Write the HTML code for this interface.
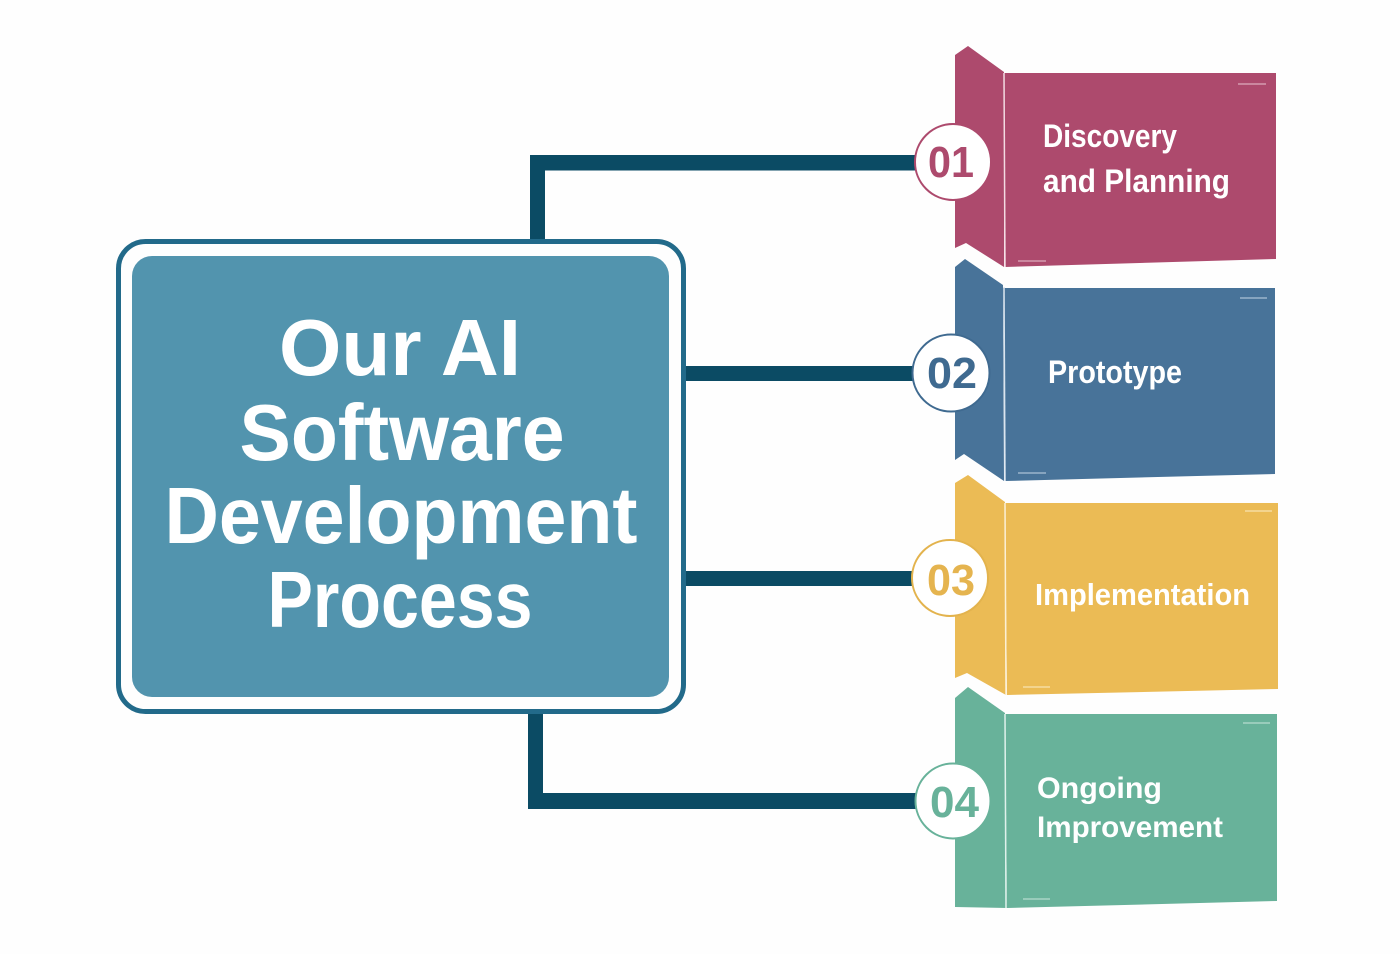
<!DOCTYPE html>
<html>
<head>
<meta charset="utf-8">
<style>
html,body{margin:0;padding:0;background:#fefefe;}
svg{display:block;}
text{font-family:"Liberation Sans",Arial,sans-serif;font-weight:bold;}
</style>
</head>
<body>
<svg width="1400" height="954" viewBox="0 0 1400 954" xmlns="http://www.w3.org/2000/svg">
  <rect x="0" y="0" width="1400" height="954" fill="#fefefe"/>

  <!-- connectors -->
  <g fill="#0b4b64">
    <rect x="530" y="155" width="15" height="88"/>
    <rect x="530" y="155" width="390" height="15.5"/>
    <rect x="684" y="366" width="232" height="15"/>
    <rect x="684" y="571" width="232" height="15"/>
    <rect x="528" y="707" width="15" height="102"/>
    <rect x="528" y="793" width="392" height="16"/>
  </g>

  <!-- main box -->
  <rect x="118.5" y="241.5" width="565" height="470" rx="27" ry="27" fill="#fefefe" stroke="#226a8a" stroke-width="5"/>
  <rect x="132" y="256" width="537" height="441" rx="20" ry="20" fill="#5294ae"/>
  <g fill="#ffffff" text-anchor="middle" font-size="80">
    <text x="400" y="375" textLength="242" lengthAdjust="spacingAndGlyphs">Our AI</text>
    <text x="402" y="460" textLength="325" lengthAdjust="spacingAndGlyphs">Software</text>
    <text x="401" y="543" textLength="473" lengthAdjust="spacingAndGlyphs">Development</text>
    <text x="400" y="627" textLength="265" lengthAdjust="spacingAndGlyphs">Process</text>
  </g>

  <!-- block 1 pink -->
  <g fill="#ad4a6d">
    <polygon points="955,55 968,46 1004,72 1004,267 966,243 955,248"/>
    <polygon points="1003,73 1276,73 1276,259 1005,267"/>
  </g>
  <line x1="1004" y1="73" x2="1005" y2="267" stroke="#f3dbe3" stroke-width="1.5"/>
  <line x1="1238" y1="84" x2="1266" y2="84" stroke="#d59bb0" stroke-width="1.5"/>
  <line x1="1018" y1="261" x2="1046" y2="261" stroke="#d59bb0" stroke-width="1.5"/>

  <!-- block 2 blue -->
  <g fill="#487399">
    <polygon points="955,267 965,259 1003,285 1004,481 964,454 955,460"/>
    <polygon points="1003,288 1275,288 1275,474 1005,481"/>
  </g>
  <line x1="1004" y1="287" x2="1005" y2="481" stroke="#dbe5ef" stroke-width="1.5"/>
  <line x1="1240" y1="298" x2="1267" y2="298" stroke="#9bb5cc" stroke-width="1.5"/>
  <line x1="1018" y1="473" x2="1046" y2="473" stroke="#9bb5cc" stroke-width="1.5"/>

  <!-- block 3 yellow -->
  <g fill="#ebbb55">
    <polygon points="955,483 968,475 1005,502 1006,695 967,673 955,678"/>
    <polygon points="1005,503 1278,503 1278,689 1007,695"/>
  </g>
  <line x1="1005" y1="503" x2="1006" y2="695" stroke="#fbf0d6" stroke-width="1.5"/>
  <line x1="1245" y1="511" x2="1272" y2="511" stroke="#f6dca2" stroke-width="1.5"/>
  <line x1="1023" y1="687" x2="1050" y2="687" stroke="#f6dca2" stroke-width="1.5"/>

  <!-- block 4 green -->
  <g fill="#68b29a">
    <polygon points="955,698 968,687 1005,713 1007,908 955,907"/>
    <polygon points="1005,714 1277,714 1277,901 1007,908"/>
  </g>
  <line x1="1005" y1="714" x2="1006" y2="908" stroke="#e0f1eb" stroke-width="1.5"/>
  <line x1="1243" y1="723" x2="1270" y2="723" stroke="#a9d5c6" stroke-width="1.5"/>
  <line x1="1023" y1="899" x2="1050" y2="899" stroke="#a9d5c6" stroke-width="1.5"/>

  <!-- circles -->
  <circle cx="953" cy="162" r="38" fill="#ffffff" stroke="#ad4a6d" stroke-width="2"/>
  <circle cx="951" cy="373" r="38.5" fill="#ffffff" stroke="#3f6a90" stroke-width="2"/>
  <circle cx="950" cy="578" r="38" fill="#ffffff" stroke="#e3b34d" stroke-width="2"/>
  <circle cx="953" cy="801" r="37.5" fill="#ffffff" stroke="#68b29a" stroke-width="2"/>

  <g text-anchor="middle" font-size="44">
    <text x="951" y="177" fill="#ad4a6d" textLength="46" lengthAdjust="spacingAndGlyphs">01</text>
    <text x="952" y="388" fill="#3f6a90" textLength="50" lengthAdjust="spacingAndGlyphs">02</text>
    <text x="951" y="595" fill="#e5b44f" textLength="48" lengthAdjust="spacingAndGlyphs">03</text>
    <text x="954.5" y="817" fill="#68b29a" textLength="49" lengthAdjust="spacingAndGlyphs">04</text>
  </g>

  <!-- labels -->
  <g fill="#ffffff">
    <text x="1043" y="147" font-size="32" textLength="134" lengthAdjust="spacingAndGlyphs">Discovery</text>
    <text x="1043" y="192" font-size="32" textLength="187" lengthAdjust="spacingAndGlyphs">and Planning</text>
    <text x="1048" y="383" font-size="32" textLength="134" lengthAdjust="spacingAndGlyphs">Prototype</text>
    <text x="1035" y="605" font-size="31" textLength="215" lengthAdjust="spacingAndGlyphs">Implementation</text>
    <text x="1037" y="798" font-size="30" textLength="125" lengthAdjust="spacingAndGlyphs">Ongoing</text>
    <text x="1037" y="837" font-size="30" textLength="186" lengthAdjust="spacingAndGlyphs">Improvement</text>
  </g>
</svg>
</body>
</html>
